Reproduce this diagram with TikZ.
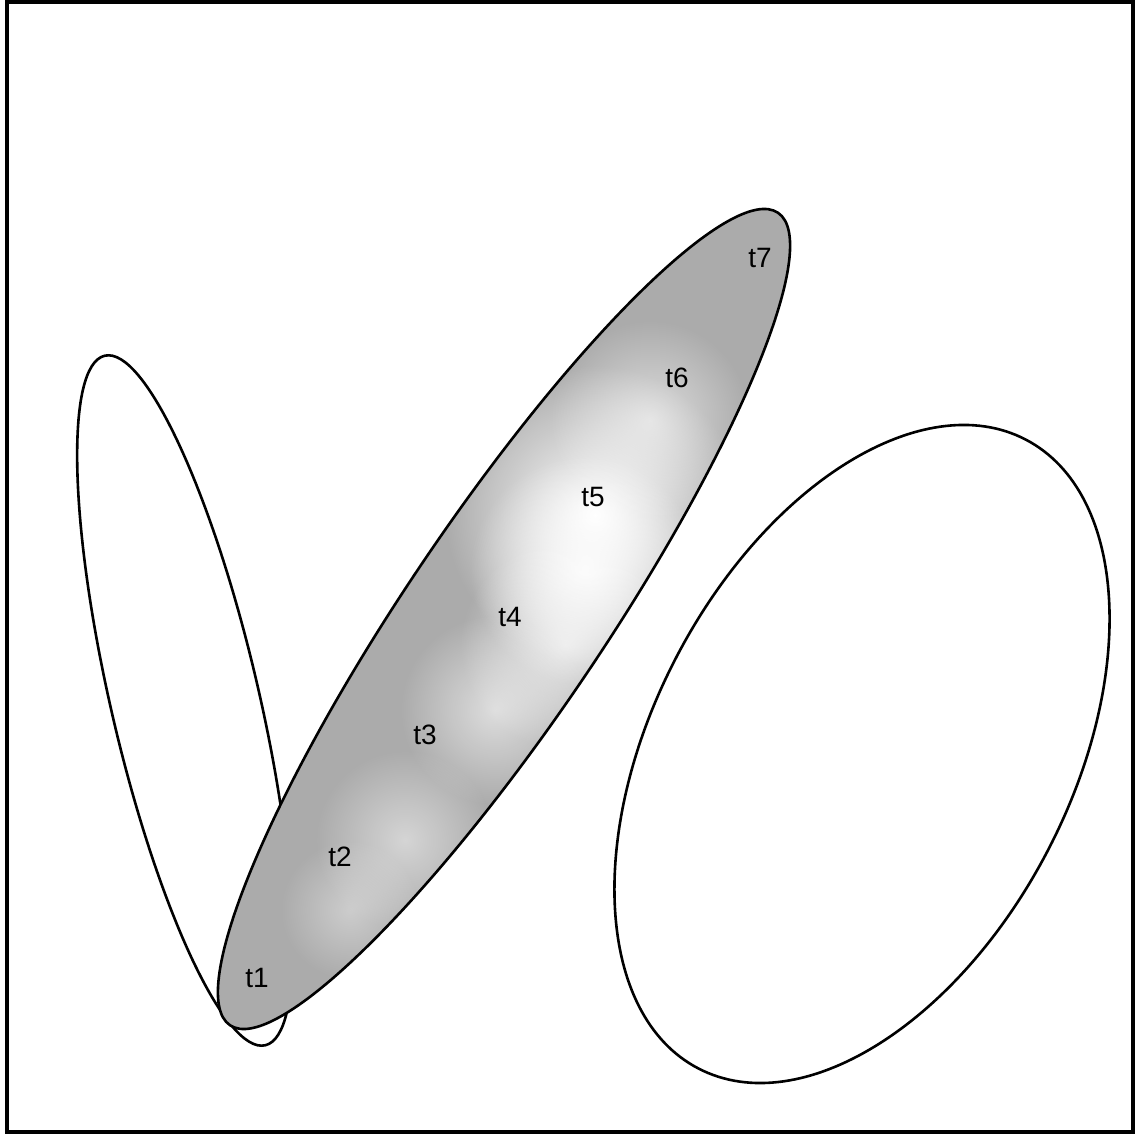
\documentclass[tikz,border=0pt]{standalone}
\usepackage{fontspec}
\setmainfont{Liberation Sans}
\usetikzlibrary{fadings}
\tikzfading[name=softblob, inner color=transparent!0, outer color=transparent!100]
\begin{document}
\begin{tikzpicture}[x=1pt,y=1pt,
  outline/.style={draw=black,line width=2.6pt},
  lbl/.style={font=\fontsize{28}{31}\selectfont,inner sep=0pt},
  base/.style={black!33},
  blob/.style={fill=white,path fading=softblob,fill opacity=#1}]
\useasboundingbox (0,0) rectangle (1135,1133);
\fill[white] (0,0) rectangle (1135,1133);
\draw[line width=3.5pt] (7,1) rectangle (1133,1131);
% left ellipse
\draw[outline] (185,432.5) ellipse [x radius=354, y radius=74, rotate=103.1];
% middle shaded ellipse
\begin{scope}
  \clip (504,514) ellipse [x radius=490, y radius=99, rotate=56];
  \fill[base] (0,0) rectangle (1135,1133);
  \fill[blob=1] (595,1133-515) circle (150);
  \fill[blob=0.9] (585,1133-570) circle (115);
  \fill[blob=0.7] (565,1133-645) circle (105);
  \fill[blob=0.6] (495,1133-710) circle (95);
  \fill[blob=0.5] (405,1133-840) circle (90);
  \fill[blob=0.6] (650,1133-420) circle (100);
  \fill[blob=0.4] (350,1133-910) circle (70);
\end{scope}
\draw[outline] (504,514) ellipse [x radius=490, y radius=99, rotate=56];
% right ellipse
\draw[outline] (862,379) ellipse [x radius=354.5, y radius=209.4, rotate=62.5];
% labels
\node[lbl] (t1) at (257,1133-978) {t1};
\node[lbl] (t2) at (340,1133-857) {t2};
\node[lbl] (t3) at (425,1133-735) {t3};
\node[lbl] (t4) at (510,1133-617) {t4};
\node[lbl] (t5) at (593,1133-497) {t5};
\node[lbl] (t6) at (677,1133-378) {t6};
\node[lbl] (t7) at (760,1133-258) {t7};
\end{tikzpicture}
\end{document}
